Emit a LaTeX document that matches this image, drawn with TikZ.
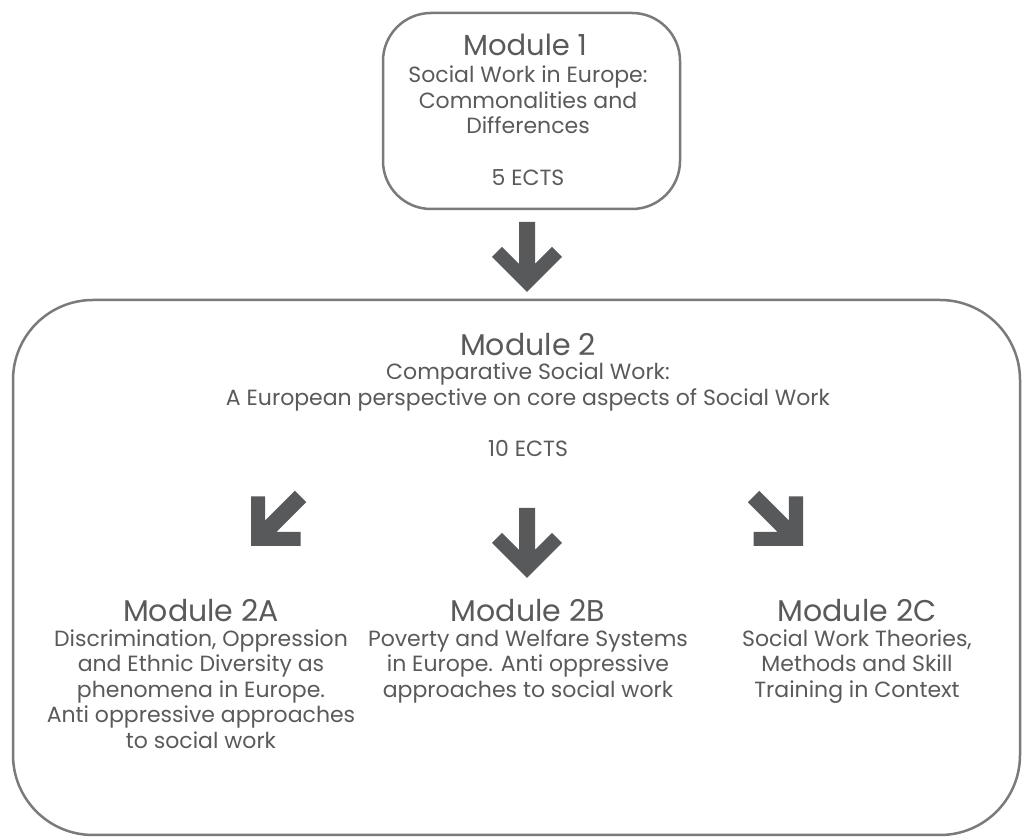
\documentclass[tikz,border=0pt]{standalone}
\usepackage{fontspec}
\setmainfont{Poppins}
\usetikzlibrary{positioning}
\definecolor{textgray}{HTML}{5A5A5A}
\definecolor{linegray}{HTML}{7A7A7A}
\definecolor{arrowgray}{HTML}{58595B}
\tikzstyle{module}=[draw=linegray,line width=2.5pt,fill=white]
\tikzstyle{every node}=[text=textgray,align=center,inner sep=0pt]
\tikzstyle{title}=[font=\fontsize{30}{32}\selectfont]
\tikzstyle{desc}=[font=\fontsize{22}{25.5}\selectfont]
\newcommand{\fatarrow}[2]{\fill[arrowgray,shift={(#1)},rotate=#2]
  (0,0) -- (-35,35) -- (-25,45) -- (-8,28) -- (-8,70) -- (8,70) -- (8,28)
  -- (25,45) -- (35,35) -- cycle;}

\begin{document}
\begin{tikzpicture}[x=1pt,y=1pt]
  \useasboundingbox (0,0) rectangle (1028,837);
  % first module
  \node[module,rounded corners=48pt,minimum width=297pt,minimum height=196pt] (m1) at (531.5,726) {};
  \node[title,font=\fontsize{29}{32}\selectfont] (m1title) at (525,792) {Module 1};
  \node[desc] (m1desc) at (528,737) {Social Work in Europe:\\Commonalities and\\Differences};
  \node[desc] (m1ects) at (528,659) {5 ECTS};
  % second module
  \node[module,rounded corners=80pt,minimum width=1007pt,minimum height=535pt] (m2) at (516.5,269.5) {};
  \node[title] (m2title) at (528,492) {Module 2};
  \node[desc] (m2desc) at (528,450) {Comparative Social Work:\\A European perspective on core aspects of Social Work};
  \node[desc] (m2ects) at (528,388) {10 ECTS};
  % arrows
  \coordinate (a1) at (527,545);
  \coordinate (a2) at (251,291);
  \coordinate (a3) at (527,259);
  \coordinate (a4) at (803,291);
  \fatarrow{a1}{0}
  \fatarrow{a2}{-45}
  \fatarrow{a3}{0}
  \fatarrow{a4}{45}
  % parts of module 2
  \node[title] (m2a) at (201,226) {Module 2A};
  \node[desc,below=7pt of m2a] (m2adesc) {Discrimination, Oppression\\and Ethnic Diversity as\\phenomena in Europe.\\Anti oppressive approaches\\to social work};
  \node[title] (m2b) at (528,226) {Module 2B};
  \node[desc,below=7pt of m2b] (m2bdesc) {Poverty and Welfare Systems\\in Europe. Anti oppressive\\approaches to social work};
  \node[title] (m2c) at (857,226) {Module 2C};
  \node[desc,below=7pt of m2c] (m2cdesc) {Social Work Theories,\\Methods and Skill\\Training in Context};
\end{tikzpicture}
\end{document}
